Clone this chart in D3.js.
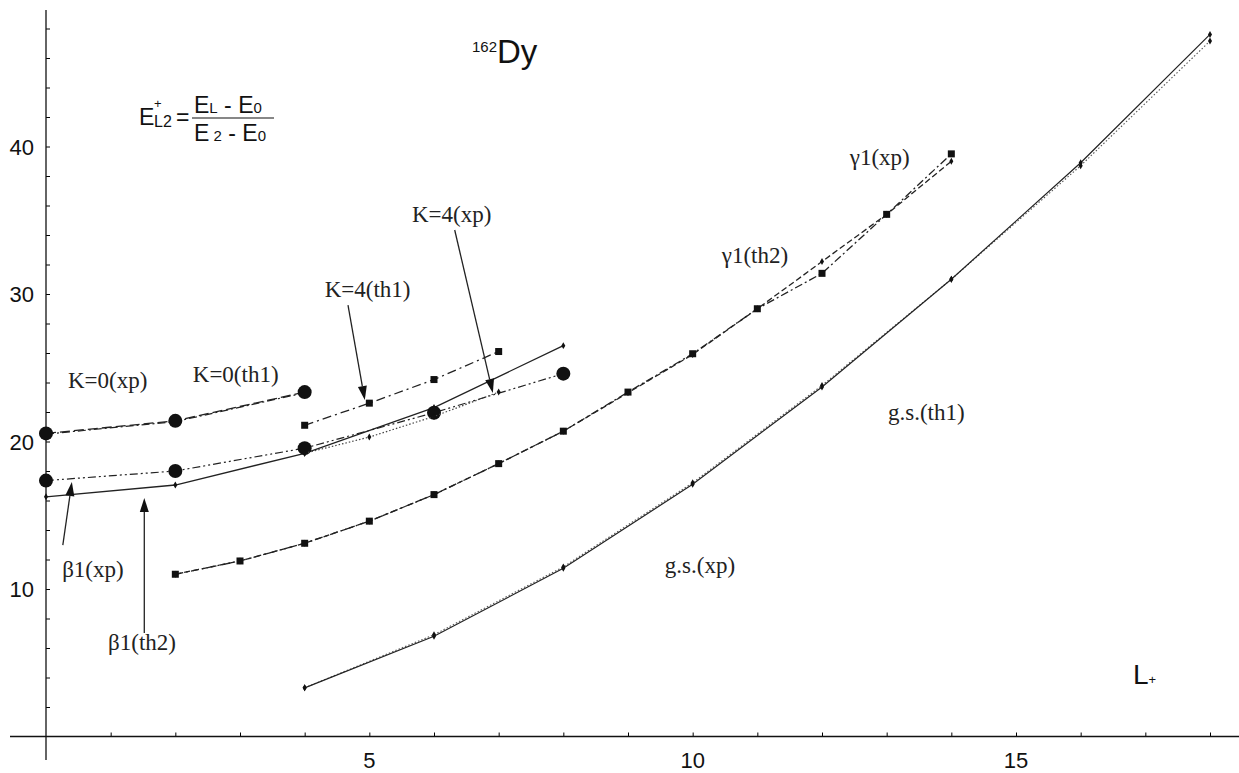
<!DOCTYPE html>
<html>
<head>
<meta charset="utf-8">
<script src="https://cdn.jsdelivr.net/npm/d3@7"></script>
<style>
  body { margin: 0; background: #fff; }
  svg { display: block; }
  .lbl { font-family: "Liberation Serif", "Times New Roman", serif; font-size: 23px; fill: #222; }
  .sans { font-family: "Liberation Sans", Arial, sans-serif; fill: #111; }
</style>
</head>
<body>
<div id="chart"></div>
<script>
// angular momentum L
const L_gs   = [4, 6, 8, 10, 12, 14, 16, 18]
const gs_xp  = [3.3, 6.8, 11.4, 17.1, 23.7, 31.0, 38.9, 47.6]
const gs_th1 = [3.3, 6.9, 11.5, 17.2, 23.8, 31.0, 38.7, 47.15]

const L_gam   = [2, 3, 4, 5, 6, 7, 8, 9, 10, 11, 12, 13, 14]
const gam_xp  = [11.0, 11.9, 13.1, 14.6, 16.4, 18.5, 20.7, 23.35, 25.95, 29.0, 31.4, 35.4, 39.5]
const gam_th2 = [11.0, 11.9, 13.1, 14.6, 16.4, 18.5, 20.7, 23.3, 25.9, 29.0, 32.2, 35.4, 39.0]

const L_k0   = [0, 2, 4]
const k0_xp  = [20.55, 21.4, 23.35]
const k0_th1 = [20.5, 21.35, 23.3]

const L_beta  = [0, 2, 4, 6, 8]
const beta_xp  = [17.35, 18.0, 19.55, 21.95, 24.6]
const beta_th2 = [16.25, 17.05, 19.2, 22.3, 26.5]

const L_k4  = [4, 5, 6, 7]
const k4_xp  = [19.2, 20.3, 21.7, 23.35]
const k4_th1 = [21.1, 22.6, 24.2, 26.1]

const yTickLabels = [10, 20, 30, 40]
const xTickLabels = [5, 10, 15]

const W = 1239, H = 773
const svg = d3.select("#chart").append("svg").attr("width", W).attr("height", H)

const x = d3.scaleLinear().domain([0, 18]).range([46, 1210])
const y = d3.scaleLinear().domain([0, 40]).range([736.5, 146.5])

// axes (ticks inside, lines crossing at origin)
const xAxis = d3.axisTop(x).tickValues(d3.range(1, 19)).tickSize(4).tickFormat("")
svg.append("g").attr("transform", `translate(0,${y(0)})`).call(xAxis)
   .call(g => g.select(".domain").remove())
svg.append("line").attr("x1", 10).attr("x2", W).attr("y1", y(0)).attr("y2", y(0))
   .attr("stroke", "#111").attr("stroke-width", 1.3)

const yAxis = d3.axisRight(y).tickValues(d3.range(2, 50, 2)).tickSize(4).tickFormat("")
svg.append("g").attr("transform", `translate(${x(0)},0)`).call(yAxis)
   .call(g => g.select(".domain").remove())
svg.append("line").attr("x1", x(0)).attr("x2", x(0)).attr("y1", 10).attr("y2", 760)
   .attr("stroke", "#111").attr("stroke-width", 1.3)

svg.selectAll("text.ylab").data(yTickLabels).enter().append("text")
   .attr("class", "sans ylab").attr("font-size", 22)
   .attr("x", x(0) - 12).attr("y", d => y(d) + 8).attr("text-anchor", "end")
   .text(d => d)
svg.selectAll("text.xlab").data(xTickLabels).enter().append("text")
   .attr("class", "sans xlab").attr("font-size", 22)
   .attr("x", d => x(d)).attr("y", 768).attr("text-anchor", "middle")
   .text(d => d)

const line = d3.line().x(d => x(d[0])).y(d => y(d[1]))
function series(Ls, vals, dash, width, colour) {
  const pts = Ls.map((l, i) => [l, vals[i]])
  svg.append("path").datum(pts).attr("d", line).attr("fill", "none")
     .attr("stroke", colour || "#222").attr("stroke-width", width || 1.2)
     .attr("stroke-dasharray", dash)
  return pts
}
function dots(pts, kind) {
  const g = svg.append("g")
  if (kind === "circle") {
    g.selectAll("circle").data(pts).enter().append("circle")
     .attr("cx", d => x(d[0])).attr("cy", d => y(d[1])).attr("r", 7).attr("fill", "#111")
  } else if (kind === "square") {
    g.selectAll("rect").data(pts).enter().append("rect")
     .attr("x", d => x(d[0]) - 3.5).attr("y", d => y(d[1]) - 3.5)
     .attr("width", 7).attr("height", 7).attr("fill", "#111")
  } else {
    g.selectAll("path").data(pts).enter().append("path")
     .attr("d", d3.symbol(d3.symbolDiamond, 14))
     .attr("transform", d => `translate(${x(d[0])},${y(d[1])})`).attr("fill", "#111")
  }
}

// ground state band
dots(series(L_gs, gs_th1, "1.5,2", 1.1, "#555"), "small")
dots(series(L_gs, gs_xp, null, 1.2), "small")
// gamma band
dots(series(L_gam, gam_th2, "6,3", 1.3), "small")
dots(series(L_gam, gam_xp, "8,3,2,3", 1.3), "square")
// K=0
series(L_k0, k0_th1, "8,3,2,3", 1.2)
dots(series(L_k0, k0_xp, "10,4", 1.3), "circle")
// beta band
dots(series(L_beta, beta_th2, null, 1.3), "small")
dots(series(L_beta, beta_xp, "8,3,2,3,2,3", 1.2), "circle")
// K=4
dots(series(L_k4, k4_xp, "1.5,2", 1.2, "#444"), "small")
dots(series(L_k4, k4_th1, "9,4,2,4", 1.3), "square")

// labels (data units)
const labelText = ["K=0(xp)", "K=0(th1)", "K=4(th1)", "K=4(xp)", "\u03b31(xp)", "\u03b31(th2)",
                   "g.s.(th1)", "g.s.(xp)", "\u03b21(xp)", "\u03b21(th2)"]
const labelX = [0.34, 2.27, 4.31, 5.66, 12.43, 10.45, 13.02, 9.57, 0.25, 0.96]
const labelY = [23.63, 24.03, 29.8, 34.88, 38.75, 32.1, 21.46, 11.08, 10.81, 5.86]
svg.selectAll("text.lbl").data(labelText).enter().append("text")
   .attr("class", "lbl").attr("x", (d, i) => x(labelX[i])).attr("y", (d, i) => y(labelY[i]))
   .text(d => d)

// arrows [x0, y0, x1, y1] in data units
const arrows = [
  [0.26, 12.98, 0.40, 17.25],
  [1.52, 7.02, 1.52, 16.17],
  [4.67, 29.25, 4.93, 22.81],
  [6.32, 34.34, 6.91, 23.29]
]
arrows.forEach(a => {
  const x0 = x(a[0]), y0 = y(a[1]), x1 = x(a[2]), y1 = y(a[3])
  const ang = Math.atan2(y1 - y0, x1 - x0), len = 14, hw = 4.5
  const bx = x1 - len * Math.cos(ang), by = y1 - len * Math.sin(ang)
  svg.append("line").attr("x1", x0).attr("y1", y0).attr("x2", bx).attr("y2", by)
     .attr("stroke", "#222").attr("stroke-width", 1.3)
  const px = -Math.sin(ang) * hw, py = Math.cos(ang) * hw
  svg.append("path")
     .attr("d", `M${x1},${y1}L${bx + px},${by + py}L${bx - px},${by - py}Z`).attr("fill", "#111")
})

// nucleus
const dy = svg.append("text").attr("class", "sans").attr("x", 472).attr("y", 63)
dy.append("tspan").attr("font-size", 15).attr("dy", -11).text("162")
dy.append("tspan").attr("font-size", 33).attr("dy", 11).text("Dy")

// formula
const f = svg.append("g").attr("class", "sans")
f.append("text").attr("x", 139).attr("y", 125).attr("font-size", 23).text("E")
f.append("text").attr("x", 154).attr("y", 108).attr("font-size", 13).text("+")
f.append("text").attr("x", 154).attr("y", 127).attr("font-size", 16).text("L2")
f.append("text").attr("x", 176).attr("y", 125).attr("font-size", 23).text("=")
const num = f.append("text").attr("x", 194).attr("y", 113).attr("font-size", 23)
num.append("tspan").text("E")
num.append("tspan").attr("font-size", 15).text("L")
num.append("tspan").text(" - E")
num.append("tspan").attr("font-size", 15).text("0")
f.append("line").attr("x1", 192).attr("x2", 274).attr("y1", 118).attr("y2", 118)
 .attr("stroke", "#111").attr("stroke-width", 1.2)
const den = f.append("text").attr("x", 194).attr("y", 141).attr("font-size", 23)
den.append("tspan").text("E")
den.append("tspan").attr("font-size", 15).text(" 2")
den.append("tspan").text(" - E")
den.append("tspan").attr("font-size", 15).text("0")

// axis title
const lt = svg.append("text").attr("class", "sans").attr("x", 1133).attr("y", 684)
lt.append("tspan").attr("font-size", 28).text("L")
lt.append("tspan").attr("font-size", 13).text("+")
</script>
</body>
</html>
